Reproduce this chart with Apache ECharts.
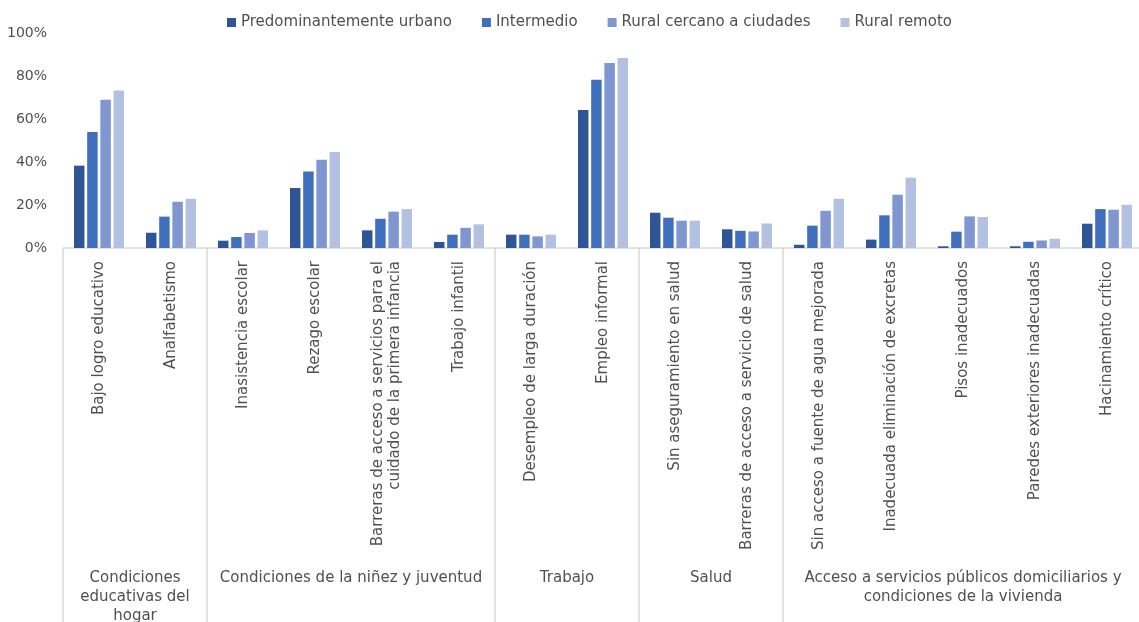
<!DOCTYPE html>
<html>
<head>
<meta charset="utf-8">
<script src="https://cdn.jsdelivr.net/npm/echarts@6/dist/echarts.min.js"></script>
<style>
  html, body { margin: 0; padding: 0; background: #fff; }
  #chart { width: 1139px; height: 622px; }
</style>
</head>
<body>
<div id="chart"></div>
<script>
// indicadores (nivel 1 del eje)
const categories = [
    'Bajo logro educativo', 'Analfabetismo',
    'Inasistencia escolar', 'Rezago escolar',
    'Barreras de acceso a servicios para el\ncuidado de la primera infancia', 'Trabajo infantil',
    'Desempleo de larga duración', 'Empleo informal',
    'Sin aseguramiento en salud', 'Barreras de acceso a servicio de salud',
    'Sin acceso a fuente de agua mejorada', 'Inadecuada eliminación de excretas',
    'Pisos inadecuados', 'Paredes exteriores inadecuadas', 'Hacinamiento crítico'
];

// dimensiones (nivel 2 del eje) y cuántos indicadores abarca cada una
const groupNames = [
    'Condiciones\neducativas del\nhogar',
    'Condiciones de la niñez y juventud',
    'Trabajo',
    'Salud',
    'Acceso a servicios públicos domiciliarios y\ncondiciones de la vivienda'
];
const groupSizes = [2, 4, 2, 2, 5];

const seriesNames = ['Predominantemente urbano', 'Intermedio', 'Rural cercano a ciudades', 'Rural remoto'];

const urbano = [38.3, 7.1, 3.4, 27.9, 8.2, 2.8, 6.2, 64.2, 16.4, 8.7, 1.5, 3.9, 0.8, 0.8, 11.3];
const intermedio = [54.0, 14.6, 5.1, 35.6, 13.6, 6.2, 6.2, 78.3, 14.1, 8.0, 10.4, 15.2, 7.6, 2.9, 18.1];
const ruralCercano = [69.0, 21.5, 7.0, 41.1, 16.9, 9.4, 5.4, 86.0, 12.7, 7.7, 17.3, 24.8, 14.7, 3.5, 17.8];
const ruralRemoto = [73.2, 22.9, 8.2, 44.7, 18.1, 11.0, 6.2, 88.4, 12.7, 11.4, 22.9, 32.7, 14.4, 4.3, 20.1];

const colors = ['#2f5597', '#4070bd', '#7f96d1', '#b4c0e1'];
const txt = '#505050';
const font = 'DejaVu Sans';

// límites y centros de cada grupo en unidades de categoría
let bounds = [0];
groupSizes.forEach(function (n) { bounds.push(bounds[bounds.length - 1] + n); });
let centers = [];
for (let i = 0; i < groupSizes.length; i++) centers.push((bounds[i] + bounds[i + 1]) / 2);

var myChart = echarts.init(document.getElementById('chart'));

myChart.setOption({
    animation: false,
    color: colors,
    textStyle: { fontFamily: font },
    legend: {
        top: 10,
        left: 222,
        itemWidth: 9,
        itemHeight: 9,
        itemGap: 30,
        icon: 'rect',
        textStyle: { color: txt, fontSize: 15, fontFamily: font },
        data: seriesNames
    },
    grid: {
        left: 63,
        right: -4,
        top: 33,
        bottom: 374,
        outerBoundsMode: 'none'
    },
    xAxis: [{
        type: 'category',
        data: categories,
        axisLine: { lineStyle: { color: '#d9d9d9', width: 1.5 } },
        axisTick: { show: false },
        axisLabel: {
            interval: 0,
            rotate: 90,
            margin: 13,
            color: txt,
            fontSize: 15,
            fontFamily: font,
            lineHeight: 17
        }
    }, {
        type: 'value',
        min: 0,
        max: 15,
        position: 'bottom',
        axisLine: { show: false },
        splitLine: { show: false },
        axisTick: {
            show: true,
            customValues: bounds,
            length: 380,
            lineStyle: { color: '#d9d9d9', width: 1.5 }
        },
        axisLabel: {
            customValues: centers,
            margin: 321,
            color: txt,
            fontSize: 15,
            fontFamily: font,
            lineHeight: 19,
            align: 'center',
            formatter: function (v) {
                let i = centers.indexOf(v);
                return i >= 0 ? groupNames[i] : '';
            }
        }
    }],
    yAxis: {
        type: 'value',
        min: 0,
        max: 100,
        interval: 20,
        axisLine: { show: false },
        axisTick: { show: false },
        splitLine: { show: false },
        axisLabel: {
            formatter: '{value}%',
            margin: 16,
            color: txt,
            fontSize: 14,
            fontFamily: font
        }
    },
    series: [
        { name: seriesNames[0], type: 'bar', data: urbano, barGap: '26%', barCategoryGap: '30.5%' },
        { name: seriesNames[1], type: 'bar', data: intermedio, barGap: '26%', barCategoryGap: '30.5%' },
        { name: seriesNames[2], type: 'bar', data: ruralCercano, barGap: '26%', barCategoryGap: '30.5%' },
        { name: seriesNames[3], type: 'bar', data: ruralRemoto, barGap: '26%', barCategoryGap: '30.5%' }
    ]
});
</script>
</body>
</html>
